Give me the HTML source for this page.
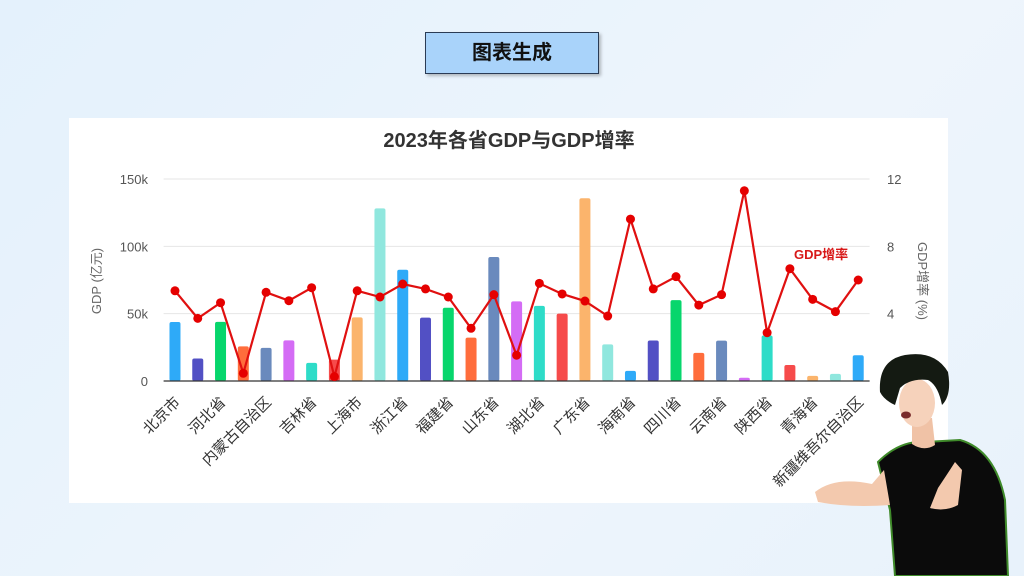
<!DOCTYPE html>
<html><head><meta charset="utf-8"><style>
body{margin:0;width:1024px;height:576px;overflow:hidden;background:linear-gradient(135deg,#e4f1fc,#eef5fc 60%,#e8f2fb);font-family:"Liberation Sans","Noto Sans CJK SC",sans-serif;position:relative}
#banner{position:absolute;left:425px;top:32px;width:172px;height:40px;background:#a9d3fa;border:1.5px solid #2a3b55;box-shadow:2px 2px 3px rgba(0,0,0,.25);font-weight:bold;font-size:20px;line-height:40px;text-align:center;color:#111}
#panel{position:absolute;left:69px;top:118px;width:879px;height:385px;background:#fff}
svg{position:absolute;left:0;top:0}
</style></head><body>
<div id="banner">图表生成</div>
<div id="panel"></div>
<svg id="chart" width="1024" height="576"></svg>
<svg width="1024" height="576" style="pointer-events:none">
 <path d="M878 462 Q900 440 925 442 L960 440 Q995 450 1005 500 L1008 576 L895 576 L890 510 Z" fill="#0b0b0b" stroke="#3f8a2a" stroke-width="2"/>
 <path d="M815 492 Q835 476 872 484 L884 470 L890 505 Q850 508 818 502 Z" fill="#f3c9ae"/>
 <path d="M938 488 Q950 470 955 462 L962 470 L958 505 Q945 512 930 508 Z" fill="#f3c9ae"/>
 <path d="M912 418 L932 418 L935 445 Q924 452 912 444 Z" fill="#f0c2a6"/>
 <ellipse cx="917" cy="403" rx="18" ry="24" fill="#f6d2bb"/>
 <path d="M880 392 Q878 360 905 355 Q935 350 948 372 Q952 395 942 405 Q938 385 928 380 Q910 378 900 388 L895 405 Q884 400 880 392 Z" fill="#141a12"/>
 <ellipse cx="906" cy="415" rx="5" ry="3.5" fill="#7a2c2c"/>
</svg>
<script>
const categories=["北京市","天津市","河北省","山西省","内蒙古自治区","辽宁省","吉林省","黑龙江省","上海市","江苏省","浙江省","安徽省","福建省","江西省","山东省","河南省","湖北省","湖南省","广东省","广西壮族自治区","海南省","重庆市","四川省","贵州省","云南省","西藏自治区","陕西省","甘肃省","青海省","宁夏回族自治区","新疆维吾尔自治区"];
const gdpValues=[43.8,16.7,43.9,25.7,24.6,30.2,13.5,15.9,47.2,128.2,82.6,47.1,54.4,32.2,92.1,59.1,55.8,50.0,135.7,27.2,7.5,30.1,60.1,20.9,30.0,2.4,33.8,11.9,3.8,5.3,19.1];
const rateValues=[5.36,3.72,4.65,0.46,5.27,4.77,5.54,0.26,5.36,4.99,5.76,5.47,4.99,3.13,5.13,1.53,5.80,5.17,4.75,3.86,9.62,5.47,6.20,4.51,5.13,11.3,2.87,6.67,4.85,4.12,6.0];
const leftTicks=["0","50k","100k","150k"];
const rightTicks=["0","4","8","12"];
const colors=["#2eaaf8","#5250c4","#07d66c","#ff6d3c","#6a8abd","#d46cf5","#2edcc8","#f64b4b","#fbb46c","#90e7de"];
const NS="http://www.w3.org/2000/svg",svg=document.getElementById('chart');
const L=163.6,R=869.6,Y0=381,YT=179,band=(R-L)/categories.length;
const x=i=>L+band*(i+0.5), yl=v=>Y0-(v/150)*(Y0-YT), yr=v=>Y0-(v/12)*(Y0-YT);
function el(t,a,txt){const e=document.createElementNS(NS,t);for(const k in a)e.setAttribute(k,a[k]);if(txt!=null)e.textContent=txt;svg.appendChild(e);return e;}
let t=el('text',{x:509,y:147,'text-anchor':'middle','font-size':20,'font-weight':'bold',fill:'#333'},'2023年各省GDP与GDP增率');


leftTicks.forEach((s,i)=>{const y=yl(i*50);
 if(i>0){const g=el('line',{x1:L,x2:R,y1:y,y2:y,stroke:'#e6e6e6'});}
 const a=el('text',{x:148,y:y+5,'text-anchor':'end','font-size':13,fill:'#555'},s);
 const b=el('text',{x:887,y:yr(i*4)+5,'font-size':13,fill:'#555'},rightTicks[i]);});
t=el('text',{transform:'translate(101,281) rotate(-90)','text-anchor':'middle','font-size':13,fill:'#666'},'GDP (亿元)');

t=el('text',{transform:'translate(918,281) rotate(90)','text-anchor':'middle','font-size':13,fill:'#666'},'GDP增率 (%)');

gdpValues.forEach((v,i)=>{const r=el('rect',{x:x(i)-5.5,y:yl(v),width:11,height:Y0-yl(v),rx:2,fill:colors[i%10]});
 });
t=el('line',{x1:L,x2:R,y1:Y0,y2:Y0,stroke:'#333','stroke-width':1.2});
categories.forEach((c,i)=>{if(i%2)return;const a=el('text',{transform:`translate(${x(i)+6},${Y0+22}) rotate(-45)`,'text-anchor':'end','font-size':15,fill:'#333'},c);
 });
const p=el('polyline',{points:rateValues.map((v,i)=>x(i)+','+yr(v)).join(' '),fill:'none',stroke:'#e01010','stroke-width':2.2});

rateValues.forEach((v,i)=>{const c=el('circle',{cx:x(i),cy:yr(v),r:4.5,fill:'#e50000'});});
t=el('text',{x:794,y:259,'font-size':13,'font-weight':'bold',fill:'#d81818'},'GDP增率');
</script>
</body></html>
